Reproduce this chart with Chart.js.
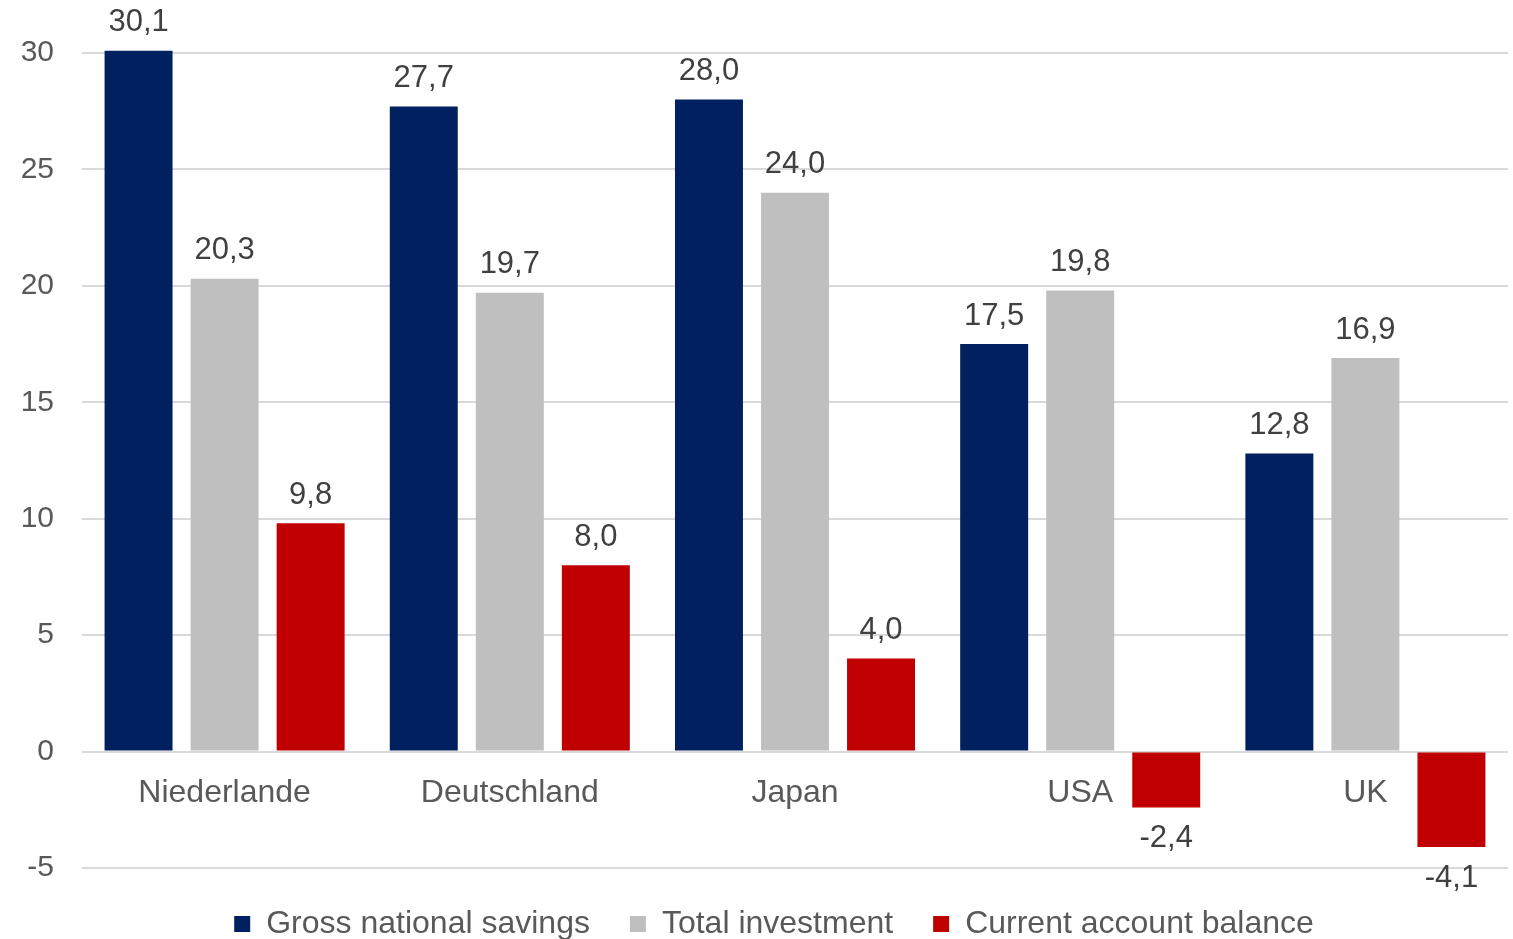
<!DOCTYPE html>
<html>
<head>
<meta charset="utf-8">
<script src="https://cdn.jsdelivr.net/npm/chart.js@4/dist/chart.umd.min.js"></script>
<style>
  html, body { margin: 0; padding: 0; background: #fff; }
  #wrap { width: 1513px; height: 939px; }
</style>
</head>
<body>
<div id="wrap"><canvas id="chart"></canvas></div>
<script>
// values from the chart (% of GDP)
const countries = ['Niederlande', 'Deutschland', 'Japan', 'USA', 'UK'];
const savings = [30.1, 27.7, 28.0, 17.5, 12.8];
const investment = [20.3, 19.7, 24.0, 19.8, 16.9];
const balance = [9.8, 8.0, 4.0, -2.4, -4.1];
const yTicks = [-5, 0, 5, 10, 15, 20, 25, 30];

const fmt = v => v.toFixed(1).replace('.', ',');

// value labels above / below each bar
const valueLabels = {
  id: 'valueLabels',
  afterDatasetsDraw(chart) {
    const ctx = chart.ctx;
    ctx.save();
    ctx.font = '31px "Liberation Sans", Arial, sans-serif';
    ctx.fillStyle = '#404040';
    ctx.textAlign = 'center';
    ctx.textBaseline = 'middle';
    chart.data.datasets.forEach((ds, i) => {
      chart.getDatasetMeta(i).data.forEach((bar, j) => {
        const v = ds.data[j];
        const y = v >= 0 ? bar.y - 28 : bar.y + 31;
        ctx.fillText(fmt(v), bar.x, y);
      });
    });
    ctx.restore();
  }
};

// legend sits a bit right of canvas centre in the original
const legendShift = {
  id: 'legendShift',
  afterLayout(chart) {
    chart.legend.left += 20;
    chart.legend.right += 20;
  }
};

new Chart(document.getElementById('chart'), {
  type: 'bar',
  data: {
    labels: countries,
    datasets: [
      { label: 'Gross national savings', data: savings, backgroundColor: '#002060' },
      { label: 'Total investment', data: investment, backgroundColor: '#bfbfbf' },
      { label: 'Current account balance', data: balance, backgroundColor: '#c00000' }
    ]
  },
  options: {
    responsive: true,
    maintainAspectRatio: false,
    animation: false,
    datasets: { bar: { categoryPercentage: 0.905, barPercentage: 0.79, clip: false } },
    layout: { padding: { top: 53, right: 5, left: 0, bottom: -11 } },
    scales: {
      x: {
        position: { y: 0 },
        grid: { display: false },
        border: { display: false },
        ticks: { color: '#595959', padding: 14, font: { size: 32, family: '"Liberation Sans", Arial, sans-serif' } }
      },
      y: {
        min: -5,
        max: 30,
        afterBuildTicks: s => { s.ticks = yTicks.map(v => ({ value: v })); },
        afterFit: s => { s.width = 82; },
        grid: { color: '#d9d9d9', lineWidth: 2, drawTicks: false },
        border: { display: false },
        ticks: { color: '#595959', padding: 28, font: { size: 30, family: '"Liberation Sans", Arial, sans-serif' } }
      }
    },
    plugins: {
      legend: {
        position: 'bottom',
        labels: {
          color: '#595959',
          boxWidth: 16,
          boxHeight: 16,
          padding: 40,
          font: { size: 32, family: '"Liberation Sans", Arial, sans-serif' }
        }
      },
      tooltip: { enabled: false }
    }
  },
  plugins: [valueLabels, legendShift]
});
</script>
</body>
</html>
